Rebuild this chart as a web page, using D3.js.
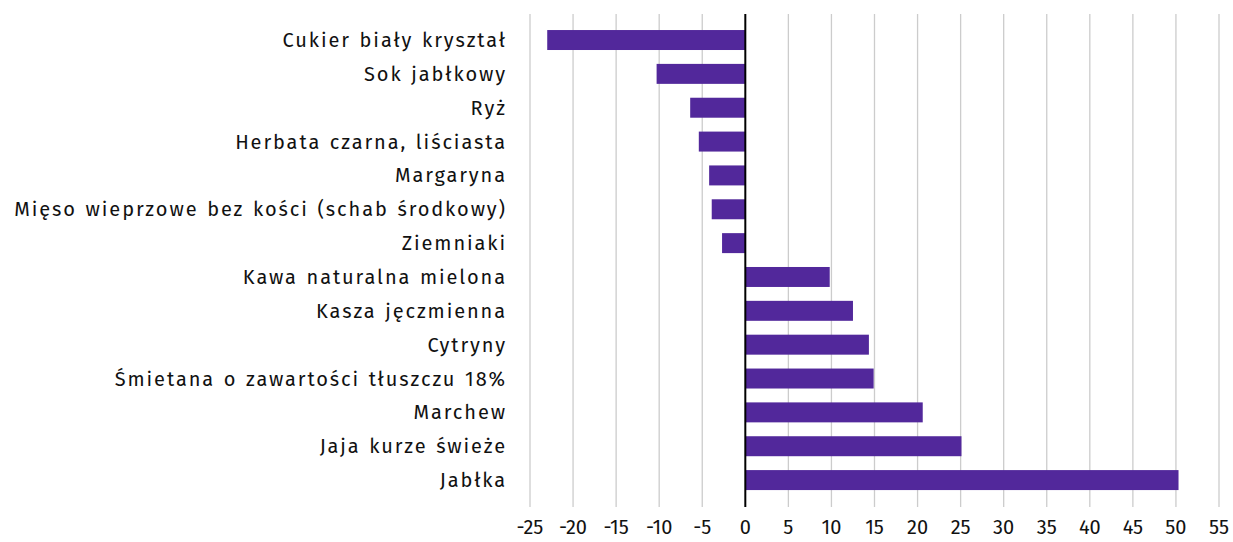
<!DOCTYPE html>
<html><head><meta charset="utf-8">
<script src="https://cdn.jsdelivr.net/npm/d3@7"></script>
<style>body{margin:0;background:#fff}svg{display:block}text{font-family:"Fira Sans","Open Sans",sans-serif}</style>
</head><body><svg id="c" width="1233" height="542"></svg>
<script>
const categories = ["Cukier biały kryształ","Sok jabłkowy","Ryż","Herbata czarna, liściasta","Margaryna","Mięso wieprzowe bez kości (schab środkowy)","Ziemniaki","Kawa naturalna mielona","Kasza jęczmienna","Cytryny","Śmietana o zawartości tłuszczu 18%","Marchew","Jaja kurze świeże","Jabłka"];
const values = [-23.0,-10.3,-6.4,-5.4,-4.2,-3.9,-2.7,9.8,12.5,14.35,14.9,20.6,25.1,50.3];
const ticks = [-25,-20,-15,-10,-5,0,5,10,15,20,25,30,35,40,45,50,55];

const svg = d3.select("#c");
const x = d3.scaleLinear().domain([-25,55]).range([530,1219]);
const y = d3.scaleBand().domain(categories).range([23.1,497]).paddingInner(0.41).paddingOuter(0.205);

svg.append("g").selectAll("line").data(ticks.filter(t=>t!==0)).join("line")
  .attr("x1",d=>x(d)).attr("x2",d=>x(d)).attr("y1",14).attr("y2",507)
  .attr("stroke","#cccccc").attr("stroke-width",1.3);

svg.append("g").selectAll("rect").data(values).join("rect")
  .attr("x",(d)=>x(Math.min(0,d))).attr("width",d=>Math.abs(x(d)-x(0)))
  .attr("y",(d,i)=>y(categories[i])).attr("height",y.bandwidth())
  .attr("fill","#52289b");

svg.append("line").attr("x1",x(0)).attr("x2",x(0)).attr("y1",14).attr("y2",507)
  .attr("stroke","#000").attr("stroke-width",2);

svg.append("g").selectAll("text").data(categories).join("text")
  .attr("x",507).attr("y",d=>y(d)+y.bandwidth()/2).attr("dy","0.35em")
  .attr("text-anchor","end").attr("font-size",20).attr("letter-spacing","1.9px").attr("word-spacing","1.5px")
  .attr("fill","#111").text(d=>d);

svg.append("g").selectAll("text").data(ticks).join("text")
  .attr("x",d=>x(d)).attr("y",527).attr("dy","0.35em")
  .attr("text-anchor","middle").attr("font-size",20).attr("fill","#111").text(d=>d);
</script></body></html>
